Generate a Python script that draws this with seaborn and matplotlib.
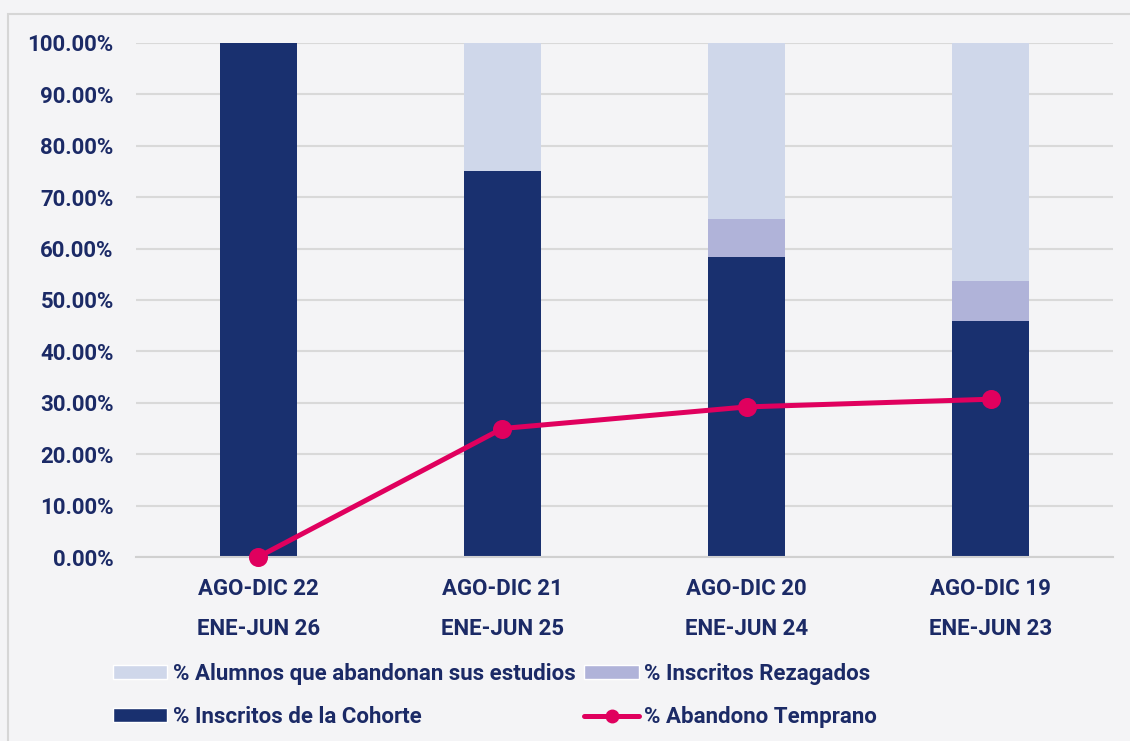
import pandas as pd
import seaborn as sns
import matplotlib.pyplot as plt
from matplotlib.patches import Patch, Rectangle
from matplotlib.lines import Line2D
from matplotlib.ticker import PercentFormatter, FixedLocator

periodos = ["AGO-DIC 22\nENE-JUN 26", "AGO-DIC 21\nENE-JUN 25",
            "AGO-DIC 20\nENE-JUN 24", "AGO-DIC 19\nENE-JUN 23"]
cohorte = [100.0, 75.0, 58.4, 45.9]
rezagados = [0.0, 0.0, 7.4, 7.7]
abandonan = [0.0, 25.0, 34.2, 46.4]
temprano = [0.0, 25.0, 29.2, 30.7]

navy = "#19306f"
lila = "#b0b3d9"
claro = "#cfd7ea"
rosa = "#e0005e"
texto = "#1b2a66"

df = pd.DataFrame({"periodo": periodos, "cohorte": cohorte,
                   "rezagados": rezagados, "abandonan": abandonan,
                   "temprano": temprano})
# stacked bars -> draw cumulative totals from back to front
df["medio"] = df["cohorte"] + df["rezagados"]
df["total"] = df["medio"] + df["abandonan"]

sns.set_style("white")
plt.rcParams["font.family"] = ["Roboto", "DejaVu Sans"]
plt.rcParams["font.weight"] = "bold"

fig = plt.figure(figsize=(11.3, 7.41), dpi=100, facecolor="#f4f4f6")
ax = fig.add_axes([0.1204, 0.2483, 0.8646, 0.6937])
ax.set_facecolor("none")

w = 0.315
for col, c in [("total", claro), ("medio", lila), ("cohorte", navy)]:
    sns.barplot(data=df, x="periodo", y=col, color=c, width=w, saturation=1,
                linewidth=0, edgecolor="none", ax=ax, zorder=2)
sns.pointplot(data=df, x="periodo", y="temprano", color=rosa, markers="o", errorbar=None,
              markersize=11, linewidth=3.6, ax=ax)
for ln in ax.lines:
    ln.set_clip_on(False)
    ln.set_zorder(5)

ax.set_xlim(-0.5, 3.5)
ax.set_ylim(0, 100)
ax.set_yticks(range(0, 101, 10))
ax.yaxis.set_major_formatter(PercentFormatter(decimals=2))
ax.yaxis.grid(True, color="#d9d9d9", linewidth=1.5, zorder=0)
ax.set_axisbelow(True)
ax.set_xlabel("")
ax.set_ylabel("")
for s in ["top", "right", "left"]:
    ax.spines[s].set_visible(False)
ax.spines["bottom"].set_color("#d0d0d0")
ax.spines["bottom"].set_linewidth(1.5)

ax.tick_params(axis="y", length=0, pad=16, labelsize=16, labelcolor=texto)
ax.tick_params(axis="x", which="major", length=0, pad=15, labelsize=16, labelcolor=texto)
ax.xaxis.set_minor_locator(FixedLocator([-0.5, 0.5, 1.5, 2.5, 3.5]))
ax.tick_params(axis="x", which="minor", length=57, width=1.5, color="#d6d6d6", direction="out")
for lab in ax.get_xticklabels():
    lab.set_linespacing(2.05)
    lab.set_fontweight("bold")
for lab in ax.get_yticklabels():
    lab.set_fontweight("bold")

handles = [Patch(facecolor=claro, label="% Alumnos que abandonan sus estudios"),
           Patch(facecolor=navy, label="% Inscritos de la Cohorte"),
           Patch(facecolor=lila, label="% Inscritos Rezagados"),
           Line2D([0], [0], color=rosa, lw=3.6, marker="o", markersize=9,
                  label="% Abandono Temprano")]
leg = fig.legend(handles=handles, ncol=2, loc="upper left",
                 bbox_to_anchor=(0.092, 1 - 654 / 741), bbox_transform=fig.transFigure,
                 frameon=False, fontsize=16, handlelength=2.45, handleheight=0.55,
                 handletextpad=0.25, labelspacing=0.95, columnspacing=0.4, borderaxespad=0)
for t in leg.get_texts():
    t.set_color(texto)
    t.set_fontweight("bold")

fig.patches.append(Rectangle((8 / 1130, -0.05), 1.1, 1 - 14 / 741 + 0.05, transform=fig.transFigure,
                             fill=False, edgecolor="#d6d6d6", linewidth=1.5, zorder=0))

fig.savefig("out.png", dpi=100, facecolor=fig.get_facecolor())
